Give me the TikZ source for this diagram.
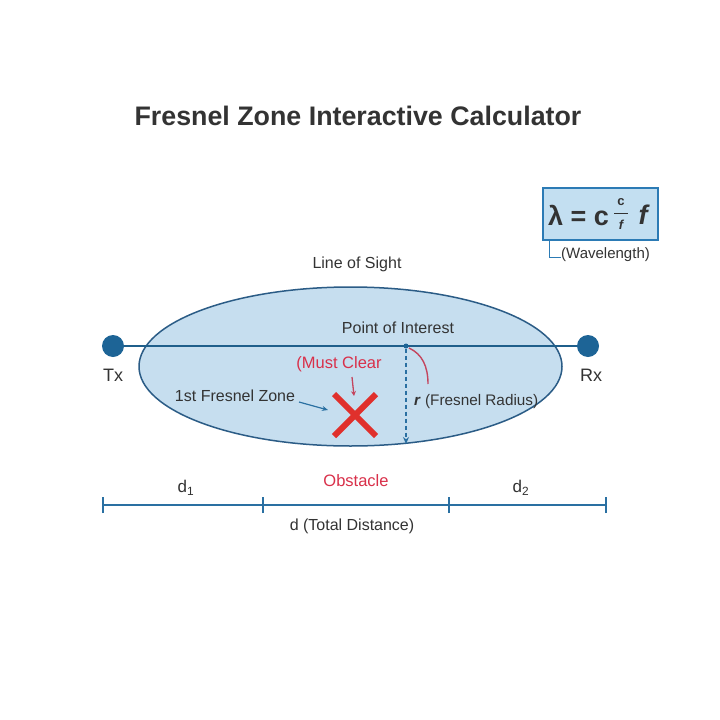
\documentclass[tikz,border=0pt]{standalone}
\usepackage{fontspec}
\setmainfont{Liberation Sans}
\usetikzlibrary{arrows.meta}
\definecolor{txt}{HTML}{333333}
\definecolor{zonefill}{HTML}{C6DEEF}
\definecolor{zoneedge}{HTML}{2B5C86}
\definecolor{losblue}{HTML}{1F5F8B}
\definecolor{dotblue}{HTML}{1D6496}
\definecolor{barblue}{HTML}{2A70A2}
\definecolor{boxfill}{HTML}{C3DFF1}
\definecolor{boxedge}{HTML}{2C7BB5}
\definecolor{redtxt}{HTML}{D9304A}
\definecolor{xred}{HTML}{E0302C}
\definecolor{arcred}{HTML}{C4455E}
\tikzset{
  lbl/.style={font=\fontsize{16}{19}\selectfont, text=txt, inner sep=0pt},
  redlbl/.style={font=\fontsize{16.5}{19}\selectfont, text=redtxt, inner sep=0pt},
  station/.style={circle, fill=dotblue, minimum size=22pt, inner sep=0pt},
  tickmark/.style={barblue, line width=1.4pt},
}
\begin{document}
\begin{tikzpicture}[x=1pt,y=-1pt]
\useasboundingbox (0,0) rectangle (720,720);
\fill[white] (0,0) rectangle (720,720);
% title
\node[font=\fontsize{26.8}{32}\selectfont\bfseries, text=txt] (title) at (358,116) {Fresnel Zone Interactive Calculator};
% formula box
\node[draw=boxedge, fill=boxfill, line width=1.6pt, minimum width=115pt, minimum height=52pt] (fbox) at (600.5,214) {};
\node[font=\fontsize{27}{30}\selectfont\bfseries, text=txt, inner sep=0pt, anchor=west] (lam) at (548,215) {λ = c};
\node[font=\fontsize{13}{14}\selectfont\bfseries, text=txt, inner sep=0pt] (fc) at (621,202) {c};
\node[font=\fontsize{13}{14}\selectfont\bfseries\itshape, text=txt, inner sep=0pt] (ff) at (621,225) {f};
\draw[txt, line width=1.2pt] (614,213.5) -- (628,213.5);
\node[font=\fontsize{27}{30}\selectfont\bfseries\itshape, text=txt, inner sep=0pt] (fvar) at (643,215) {f};
\coordinate (brk) at (549,240);
\draw[boxedge, line width=1pt] (brk) -- (549,257) -- (561,257);
\node[font=\fontsize{15}{17}\selectfont, text=txt, inner sep=0pt, anchor=west] (wl) at (561,255) {(Wavelength)};
% line of sight label
\node[lbl] (los) at (357,264) {Line of Sight};
% ellipse zone
\draw[fill=zonefill, draw=zoneedge, line width=1.5pt] (350.5,366.5) ellipse [x radius=211.5, y radius=79.5];
\node[inner sep=0pt] (zone) at (350.5,366.5) {};
% stations and LOS
\node[station] (tx) at (113,346) {};
\node[station] (rx) at (588,346) {};
\draw[losblue, line width=2pt] (tx) -- (rx);
\node[lbl, font=\fontsize{18}{21}\selectfont] (txl) at (113,375) {Tx};
\node[lbl, font=\fontsize{18}{21}\selectfont] (rxl) at (591,375) {Rx};
% point of interest
\node[circle, fill=dotblue, minimum size=5pt, inner sep=0pt] (poi) at (406,346) {};
\node[lbl] (poil) at (398,328) {Point of Interest};
\coordinate (rbot) at (406,444);
\draw[barblue, line width=1.2pt, dashed, dash pattern=on 4pt off 3pt, -{Stealth[length=7pt,width=6pt]}] (poi) -- (rbot);
\draw[arcred, line width=1.4pt] (409,348) .. controls (422,354) and (428,366) .. (428,384);
\node[lbl, anchor=west, font=\fontsize{15.3}{18}\selectfont] (rl) at (414,402) {\textbf{\textit{r}} (Fresnel Radius)};
% must clear
\node[redlbl] (mc) at (339,364) {(Must Clear};
\node[inner sep=0pt] (xmark) at (355,415) {};
\draw[arcred, line width=1.3pt, -{Stealth[length=5pt,width=5pt]}] (352,377) -- (354,396);
\draw[xred, line width=6pt] (334,394) -- (376,436);
\draw[xred, line width=6pt] (334,436) -- (376,394);
% first fresnel zone
\node[lbl] (ffz) at (235,396) {1st Fresnel Zone};
\draw[barblue, line width=1.2pt, -{Stealth[length=6pt,width=5pt]}] (299,402) -- (328,410);
% distance bar
\coordinate (b0) at (103,505);
\coordinate (b1) at (263,505);
\coordinate (b2) at (449,505);
\coordinate (b3) at (606,505);
\draw[barblue, line width=1.8pt] (b0) -- (b3);
\foreach \p in {b0,b1,b2,b3} \draw[tickmark] ([yshift=-8pt]\p) -- ([yshift=8pt]\p);
\node[lbl, font=\fontsize{17}{20}\selectfont] (d1) at (186,488) {d\textsubscript{1}};
\node[lbl, font=\fontsize{17}{20}\selectfont] (d2) at (521,488) {d\textsubscript{2}};
\node[redlbl] (obs) at (356,481) {Obstacle};
\node[lbl] (dt) at (352,526) {d (Total Distance)};
\end{tikzpicture}
\end{document}
